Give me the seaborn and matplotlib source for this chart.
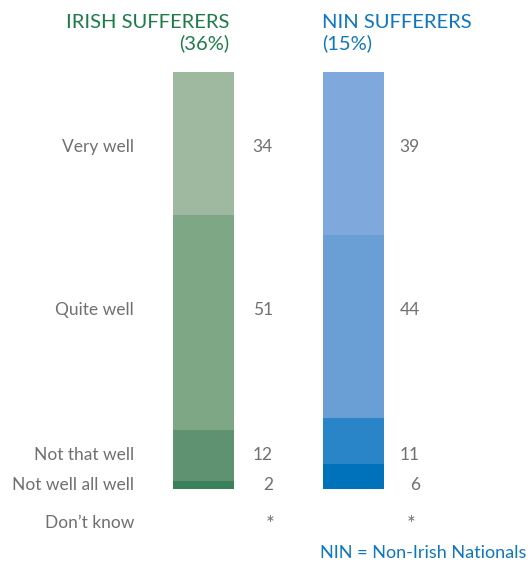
import matplotlib
matplotlib.use("Agg")
import matplotlib.pyplot as plt
import seaborn as sns
import pandas as pd

# data
groups = ["Irish", "NIN"]
titles = ["IRISH SUFFERERS\n(36%)", "NIN SUFFERERS\n(15%)"]
categories = ["Very well", "Quite well", "Not that well", "Not well all well", "Don\u2019t know"]
irish_values = [34, 51, 12, 2]
nin_values = [39, 44, 11, 6]
value_labels = {
    "Irish": ["34", "51", "12", "2", "*"],
    "NIN": ["39", "44", "11", "6", "*"],
}

green_shades = ["#9fb8a0", "#7da785", "#5f9270", "#3a8059"]
blue_shades = ["#7fa9dc", "#6a9fd6", "#2a84c8", "#0072bb"]
title_colors = ["#1e7b4a", "#0f77c0"]
text_grey = "#707070"

W, H = 531, 566
sns.set_style("white")
plt.rcParams["font.family"] = ["Lato", "DejaVu Sans"]

fig = plt.figure(figsize=(W / 100, H / 100), dpi=100)
ax = fig.add_axes([0, 0, 1, 1])

# normalise each bar to 100 so both bars have the same height
def to_pct(vals):
    tot = sum(vals)
    return [v * 100.0 / tot for v in vals]

pct = {"Irish": to_pct(irish_values), "NIN": to_pct(nin_values)}

# draw stacked bars back-to-front with cumulative totals (top segment first)
for i in range(4):
    cum = pd.DataFrame({
        "group": groups,
        "value": [sum(pct[g][i:]) for g in groups],
    })
    sns.barplot(data=cum, x="group", y="value", hue="group",
                palette=[green_shades[i], blue_shades[i]], legend=False,
                width=61 / 150, saturation=1, ax=ax, linewidth=0)

# pixel layout: bar centres at 203.5 and 353.5 px, 150 px apart;
# bar spans y 72..489 px
ppu = 417 / 100.0
ax.set_xlim(-203.5 / 150, (W - 203.5) / 150)
ax.set_ylim(-(H - 489) / ppu, 100 + 72 / ppu)
ax.axis("off")


def ft(x, y, s, **kw):
    fig.text(x / W, 1 - y / H, s, **kw)


row_y = [147, 310, 455, 485, 523]
for cat, y in zip(categories, row_y):
    ft(134, y, cat, ha="right", va="center", fontsize=12.5, color=text_grey)
for y, lab in zip(row_y, value_labels["Irish"]):
    if lab == "*":
        ft(275, y + 2, lab, ha="right", va="center", fontsize=15, color=text_grey)
    else:
        ft(273, y, lab, ha="right", va="center", fontsize=12.5, color=text_grey)
for y, lab in zip(row_y, value_labels["NIN"]):
    if lab == "*":
        ft(416, y + 2, lab, ha="right", va="center", fontsize=15, color=text_grey)
    else:
        ft(420, y, lab, ha="right", va="center", fontsize=12.5, color=text_grey)

ft(229, 33, titles[0], ha="right", va="center", fontsize=14.5,
   color=title_colors[0], multialignment="right", linespacing=1.2)
ft(322, 33, titles[1], ha="left", va="center", fontsize=14.5,
   color=title_colors[1], multialignment="left", linespacing=1.2)

ft(526, 553, "NIN = Non-Irish Nationals", ha="right", va="center",
   fontsize=13, color=title_colors[1])

fig.savefig("out.png", dpi=100)
